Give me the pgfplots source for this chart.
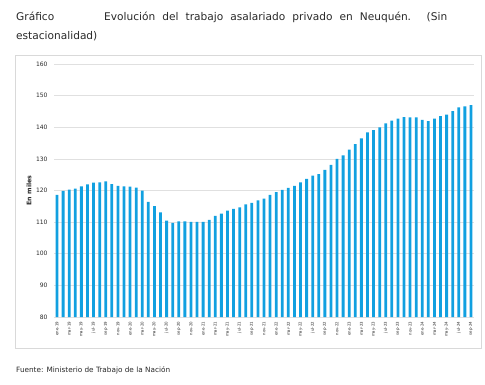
\documentclass[border=0pt]{standalone}
\usepackage{fontspec}
\setmainfont{DejaVu Sans}
\usepackage{pgfplots}
\pgfplotsset{compat=1.18}
\definecolor{barblue}{RGB}{17,160,224}
\definecolor{gridgray}{RGB}{224,224,224}
\definecolor{boxgray}{RGB}{217,217,217}
\definecolor{txt}{RGB}{40,40,40}
\begin{document}
\begin{tikzpicture}
\path[use as bounding box] (0pt,0pt) rectangle (485pt,384pt);
\draw[boxgray,line width=0.6pt] (15pt,35.7pt) rectangle (481pt,328.3pt);
\node[anchor=base west,inner sep=0,font=\fontsize{10.6}{12}\selectfont,text=txt] at (16pt,363.3pt) {Gráfico};
\node[anchor=base west,inner sep=0,font=\fontsize{10.6}{12}\selectfont,text=txt] at (104pt,363.3pt) {\makebox[343pt][s]{Evolución del trabajo asalariado privado en Neuquén. (Sin}};
\node[anchor=base west,inner sep=0,font=\fontsize{10.6}{12}\selectfont,text=txt] at (16pt,344.7pt) {estacionalidad)};
\node[anchor=base west,inner sep=0,font=\fontsize{7.3}{9}\selectfont,text=txt] at (16pt,12pt) {Fuente: Ministerio de Trabajo de la Nación};
\begin{axis}[
  at={(54pt,67pt)}, anchor=south west,
  scale only axis, width=420pt, height=253pt,
  xmin=-0.5, xmax=68.5, ymin=80, ymax=160,
  ytick={80,90,...,160},
  xtick={0,2,...,68},
  xticklabels={ene-19,mar-19,may-19,jul-19,sep-19,nov-19,ene-20,mar-20,may-20,jul-20,sep-20,nov-20,ene-21,mar-21,may-21,jul-21,sep-21,nov-21,ene-22,mar-22,may-22,jul-22,sep-22,nov-22,ene-23,mar-23,may-23,jul-23,sep-23,nov-23,ene-24,mar-24,may-24,jul-24,sep-24},
  ymajorgrids, grid style={gridgray,line width=0.6pt},
  axis line style={draw=none},
  major tick length=0pt,
  /pgf/number format/assume math mode=true,
  yticklabel style={font=\fontsize{6}{7}\selectfont,text=txt,xshift=-3pt},
  xticklabel style={font=\fontsize{3.9}{4.5}\selectfont,text=txt,rotate=90,anchor=east,yshift=0pt,xshift=-1.5pt},
  ylabel={\textbf{En miles}},
  ylabel style={at={(axis description cs:-0.0595,0.5)},anchor=center,font=\fontsize{6.3}{7}\selectfont,text=txt},
]
\addplot[ybar, bar width=2.8pt, bar shift=0pt, fill=barblue, draw=none] coordinates {
(0,118.6)(1,119.9)(2,120.3)(3,120.6)(4,121.3)(5,121.9)(6,122.5)(7,122.6)(8,122.9)(9,122.0)(10,121.5)(11,121.3)
(12,121.2)(13,120.9)(14,120.0)(15,116.4)(16,115.1)(17,113.1)(18,110.5)(19,109.8)(20,110.2)(21,110.2)(22,110.1)(23,110.1)
(24,110.1)(25,110.7)(26,112.0)(27,112.7)(28,113.6)(29,114.2)(30,114.7)(31,115.6)(32,116.1)(33,116.9)(34,117.4)(35,118.6)
(36,119.5)(37,120.2)(38,120.8)(39,121.5)(40,122.6)(41,123.7)(42,124.7)(43,125.2)(44,126.5)(45,128.1)(46,130.0)(47,131.1)
(48,132.9)(49,134.7)(50,136.5)(51,138.4)(52,139.1)(53,140.0)(54,141.2)(55,142.1)(56,142.7)(57,143.2)(58,143.1)(59,143.1)
(60,142.3)(61,141.9)(62,142.7)(63,143.5)(64,144.0)(65,145.1)(66,146.3)(67,146.6)(68,147.0)
};
\end{axis}
\end{tikzpicture}
\end{document}
